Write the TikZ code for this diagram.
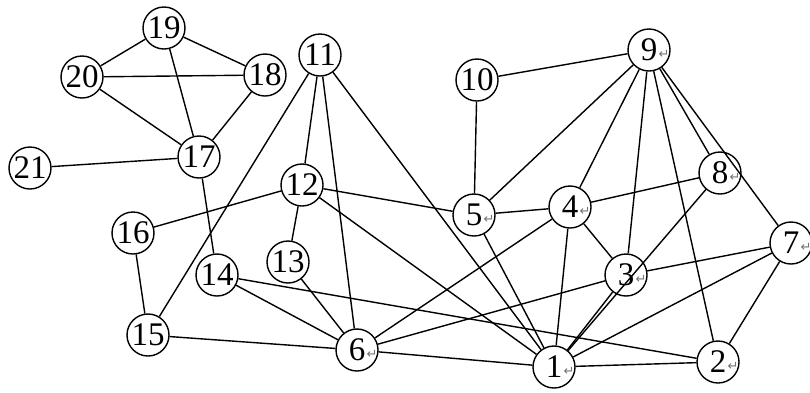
\documentclass[tikz,border=0pt]{standalone}
\usepackage{fontspec}
\setmainfont{Liberation Serif}
\newfontfamily\dvfont{DejaVu Sans}
\begin{document}
\begin{tikzpicture}[x=1pt,y=-1pt,
  vertex/.style={circle,draw,line width=1.4pt,minimum size=42pt,inner sep=0pt,fill=white,font=\fontsize{33}{33}\selectfont},
  edge/.style={line width=1.4pt},
  pmark/.style={font=\dvfont\fontsize{13}{13}\selectfont,text=black!55,inner sep=0pt}]
\useasboundingbox (0,0) rectangle (810,392);
\node[vertex] (n1) at (554,367) {1};
\node[vertex] (n2) at (718,362) {2};
\node[vertex] (n3) at (626,275) {3};
\node[vertex] (n4) at (570,207) {4};
\node[vertex] (n5) at (474,215) {5};
\node[vertex] (n6) at (357,350) {6};
\node[vertex] (n7) at (791,243) {7};
\node[vertex] (n8) at (720,173) {8};
\node[vertex] (n9) at (649,50) {9};
\node[vertex] (n10) at (477,80) {10};
\node[vertex] (n11) at (320,55) {11};
\node[vertex] (n12) at (302,185) {12};
\node[vertex] (n13) at (288,262) {13};
\node[vertex] (n14) at (217,275) {14};
\node[vertex] (n15) at (148,335) {15};
\node[vertex] (n16) at (133,233) {16};
\node[vertex] (n17) at (199,157) {17};
\node[vertex] (n18) at (265,75) {18};
\node[vertex] (n19) at (164,28) {19};
\node[vertex] (n20) at (82,77) {20};
\node[vertex] (n21) at (30,168) {21};
\foreach \a/\b in {19/20,19/18,19/17,20/18,20/17,18/17,21/17,17/14,11/15,11/12,11/6,11/1,
  12/16,12/13,12/5,12/1,16/15,13/6,14/6,14/2,15/6,6/1,6/4,6/3,10/9,10/5,9/5,9/4,9/3,9/2,
  9/8,9/7,8/4,8/1,4/5,4/3,4/1,5/1,3/7,3/1,7/1,7/2,1/2}
  \draw[edge] (n\a) -- (n\b);
\foreach \n in {1,2,3,4,5,6,7,8,9}
  \node[pmark] (m\n) at ([shift={(15,4)}]n\n.center) {↵};
\end{tikzpicture}
\end{document}
